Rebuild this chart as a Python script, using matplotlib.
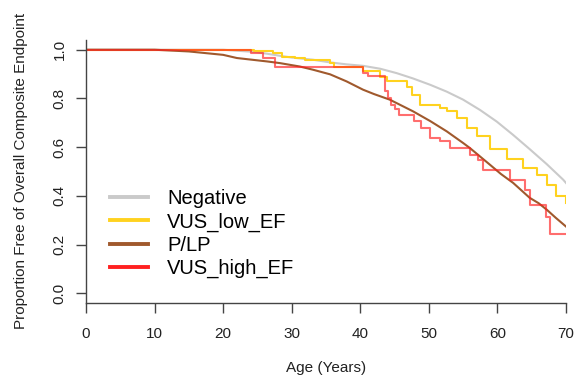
import numpy as np
import matplotlib
matplotlib.use("Agg")
import matplotlib.pyplot as plt
from matplotlib.lines import Line2D

plt.rcParams['font.family'] = ['Liberation Sans', 'DejaVu Sans']

# Negative (smooth looking KM curve)
neg_age = [0, 20, 25, 28.3, 30, 33.1, 35.6, 38.0, 40.4, 42.9, 45.3, 47.7, 50.2,
           52.6, 55.0, 57.5, 59.9, 62.3, 64.7, 67.2, 69.6, 70]
neg_surv = [1.0, 1.0, 0.99, 0.975, 0.968, 0.959, 0.948, 0.94, 0.934, 0.922, 0.904, 0.882,
            0.856, 0.828, 0.795, 0.752, 0.705, 0.65, 0.592, 0.53, 0.466, 0.453]

# VUS_low_EF (steps)
low_age = [0, 24.5, 27.3, 28.6, 30.5, 32.0, 35.6, 36.2, 40.4, 42.9, 43.9, 46.8, 47.5,
           48.7, 51.6, 52.6, 54.1, 55.5, 57.0, 58.9, 61.4, 63.8, 65.7, 67.2, 68.6, 70]
low_surv = [1.0, 0.993, 0.986, 0.972, 0.966, 0.959, 0.945, 0.929, 0.911, 0.89, 0.870,
            0.845, 0.815, 0.774, 0.760, 0.749, 0.721, 0.680, 0.646, 0.591, 0.550, 0.515,
            0.487, 0.446, 0.398, 0.370]

# P/LP
plp_age = [0, 10, 15, 20, 22, 26.4, 28.3, 31.2, 33.1, 35.6, 38.0, 40.4, 42.0, 44.3, 47.7,
           50.2, 52.6, 55.0, 56.0, 58.9, 60.5, 62.3, 64.7, 66.0, 67.2, 68.5, 70]
plp_surv = [1.0, 1.0, 0.993, 0.979, 0.966, 0.952, 0.945, 0.931, 0.918, 0.899, 0.870, 0.836,
            0.818, 0.795, 0.747, 0.707, 0.665, 0.617, 0.596, 0.528, 0.49, 0.453, 0.392,
            0.37, 0.343, 0.31, 0.274]

# VUS_high_EF (steps)
high_age = [0, 24.0, 25.8, 27.6, 40.4, 41.1, 43.6, 44.0, 44.5, 45.0, 45.7, 47.9, 48.9,
            50.1, 51.6, 53.1, 56.0, 57.2, 57.9, 61.8, 64.0, 64.7, 67.1, 67.7, 70]
high_surv = [1.0, 0.986, 0.966, 0.931, 0.904, 0.893, 0.83, 0.80, 0.775, 0.757, 0.733,
             0.706, 0.678, 0.637, 0.626, 0.596, 0.569, 0.548, 0.507, 0.466, 0.425, 0.363,
             0.315, 0.244, 0.244]

labels = ["Negative", "VUS_low_EF", "P/LP", "VUS_high_EF"]
colors = ["#cacaca", "#ffd21f", "#a0592d", "#ff2020"]

fig = plt.figure(figsize=(5.83, 3.82), dpi=100)
ax = fig.add_axes([86/583, 1-303/382, 480/583, 263/382])

ax.plot(neg_age, neg_surv, color=colors[0], lw=1.5)
ax.step(low_age, low_surv, where='post', color=colors[1], lw=1.5)
ax.plot(plp_age, plp_surv, color=colors[2], lw=1.5)
ax.step(high_age, high_surv, where='post', color=colors[3], lw=1.5, alpha=0.65)

ax.set_xlim(0, 70)
ax.set_ylim(-0.04, 1.04)
ax.set_xticks(range(0, 71, 10))
ax.set_yticks([0, 0.2, 0.4, 0.6, 0.8, 1.0])
ax.set_yticklabels(["0.0", "0.2", "0.4", "0.6", "0.8", "1.0"], rotation=90, va='center')
for s in ['top', 'right']:
    ax.spines[s].set_visible(False)
for s in ['left', 'bottom']:
    ax.spines[s].set_color('#444444')
    ax.spines[s].set_linewidth(1.0)
ax.tick_params(axis='both', length=7, width=1.0, color='#444444', labelsize=11,
               labelcolor='#222222')
ax.tick_params(axis='x', pad=10)
ax.tick_params(axis='y', pad=7)

fig.text(326/583, 1-368/382, "Age (Years)", ha='center', va='center', fontsize=11,
         color='#222222')
fig.text(21/583, 1-171/382, "Proportion Free of Overall Composite Endpoint", ha='center',
         va='center', rotation=90, fontsize=11, color='#222222')

handles = [Line2D([], [], color=c, lw=2.8) for c in colors]
ax.legend(handles, labels, loc='upper left', bbox_to_anchor=(0.05, 0.432), frameon=False,
          fontsize=14.5, handlelength=1.9, handletextpad=0.95, labelspacing=0.2,
          borderpad=0, borderaxespad=0)

fig.savefig("out.png", dpi=100)
